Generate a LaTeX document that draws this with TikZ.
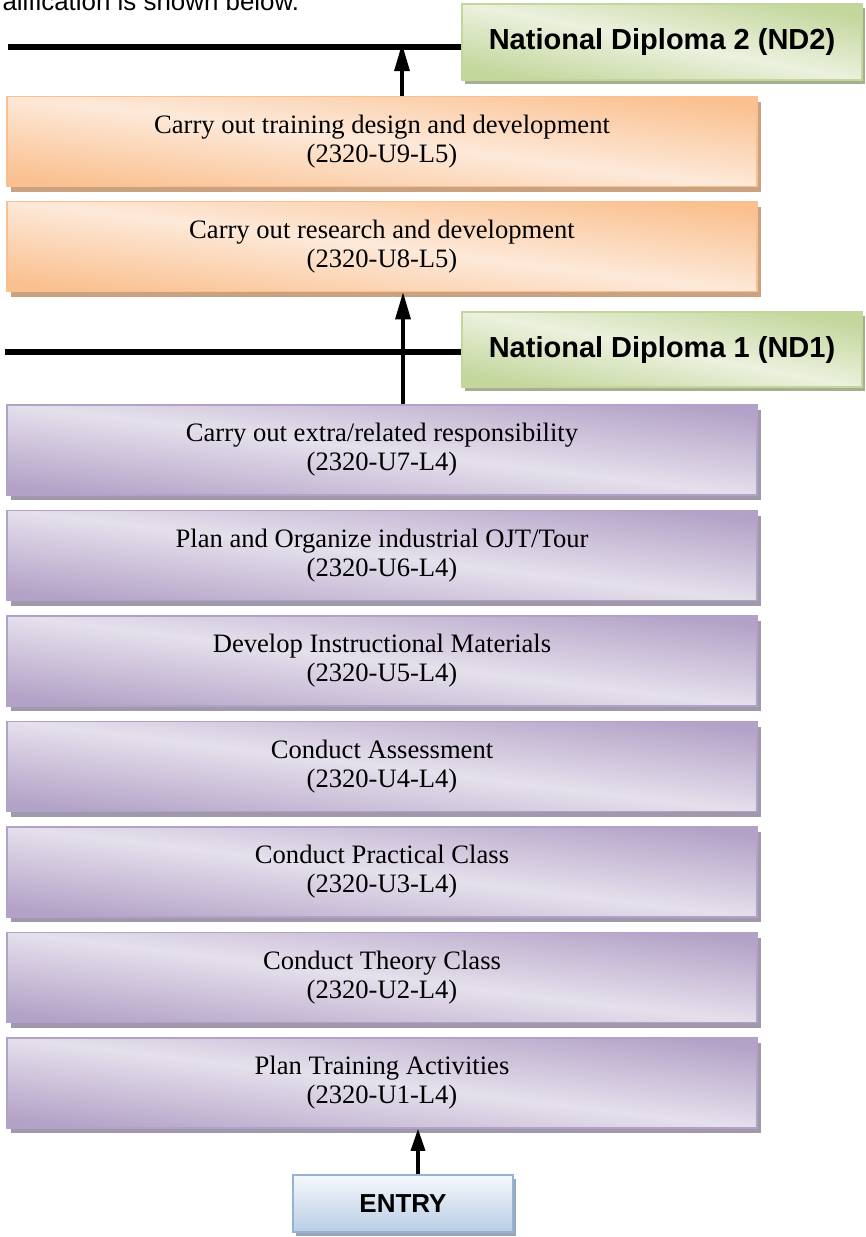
\documentclass[tikz,border=0pt]{standalone}
\usepackage{fontspec}
\setmainfont{Liberation Serif}
\newfontfamily\arialfont{Liberation Sans}
\usepackage{tikz}
\usetikzlibrary{arrows.meta,shadows,calc}

\definecolor{orD}{HTML}{FAC08F}
\definecolor{orL}{HTML}{FDE9D9}
\definecolor{orS}{HTML}{C9A282}
\definecolor{puD}{HTML}{B3A2C7}
\definecolor{puL}{HTML}{E5E0EC}
\definecolor{puS}{HTML}{9F99AB}
\definecolor{grD}{HTML}{C3D69B}
\definecolor{grL}{HTML}{EBF1DE}
\definecolor{grS}{HTML}{A6B08E}
\definecolor{enT}{HTML}{F5F8FC}
\definecolor{enD}{HTML}{B9CDE5}
\definecolor{enB}{HTML}{95B3D7}
\definecolor{enS}{HTML}{9AA5B5}

\newcommand{\unitfont}{\fontsize{26.6}{29}\selectfont}
\newcommand{\diplomafont}{\arialfont\bfseries\fontsize{29}{33}\selectfont}
\newcommand{\entryfont}{\arialfont\bfseries\fontsize{26}{30}\selectfont}
\newcommand{\headfont}{\arialfont\fontsize{25.9}{30}\selectfont}

\tikzset{
  unitbox/.style={draw=#1D, line width=1.5pt, top color=#1D, bottom color=#1D,
    middle color=#1L, shading angle=-7, minimum width=750pt, minimum height=90pt,
    align=center, font=\unitfont,
    drop shadow={shadow xshift=4pt, shadow yshift=-5pt, fill=#1S, opacity=1}},
  diploma/.style={draw=grD, line width=1.5pt, top color=grD, bottom color=grD,
    middle color=grL, shading angle=-11, minimum width=400pt, font=\diplomafont,
    drop shadow={shadow xshift=3pt, shadow yshift=-4pt, fill=grS, opacity=1}},
  entrybox/.style={draw=enB, line width=1.5pt, top color=enT, bottom color=enD,
    minimum width=220pt, minimum height=57pt, font=\entryfont,
    drop shadow={shadow xshift=3pt, shadow yshift=-4pt, fill=enS, opacity=1}},
  levelline/.style={line width=6pt, black},
  uparrow/.style={line width=3.2pt, -{Triangle[length=27pt,width=15pt]}},
}

\begin{document}
\begin{tikzpicture}[x=1pt,y=-1pt]
\useasboundingbox (0,0) rectangle (865,1237);
\clip (0,0) rectangle (865,1237);

%draw heading text
\draw (-1,10) node[anchor=base west, font=\headfont, name=head] {alification is shown below.};

%draw diploma boxes
\draw (662,42) node[diploma, minimum height=76pt, name=nd2] {National Diploma 2 (ND2)};
\draw (662,349.5) node[diploma, minimum height=75pt, name=nd1] {National Diploma 1 (ND1)};

%draw level lines
\coordinate (l2) at (8,47);
\coordinate (l1) at (5,352);
\draw[levelline] (l2) -- (l2 -| nd2.west);
\draw[levelline] (l1) -- (l1 -| nd1.west);

%draw level 5 units
\draw (382,141.5) node[unitbox=or, name=u9] {Carry out training design and development\\(2320-U9-L5)};
\draw (382,246.5) node[unitbox=or, name=u8] {Carry out research and development\\(2320-U8-L5)};

%draw level 4 units
\foreach \n/\txt in {7/{Carry out extra/related responsibility},
  6/{Plan and Organize industrial OJT/Tour}, 5/Develop Instructional Materials,
  4/Conduct Assessment, 3/Conduct Practical Class, 2/Conduct Theory Class,
  1/Plan Training Activities}{
   \draw (382,{450+105.5*(7-\n)}) node[unitbox=pu, name=u\n] {\txt\\(2320-U\n-L4)};
}

%draw entry box
\draw (403,1203.5) node[entrybox, name=entry] {ENTRY};

%draw arrows
\coordinate (a9) at ([xshift=20pt]u9.north);
\coordinate (a7) at ([xshift=21pt]u7.north);
\coordinate (a1) at ([xshift=15pt]entry.north);
\draw[uparrow] (a9) -- ($(a9 |- l2)+(0,-3)$);
\draw[uparrow] (a7) -- (a7 |- u8.south);
\draw[uparrow, -{Triangle[length=22pt,width=14pt]}] (a1) -- (a1 |- u1.south);
\end{tikzpicture}
\end{document}
